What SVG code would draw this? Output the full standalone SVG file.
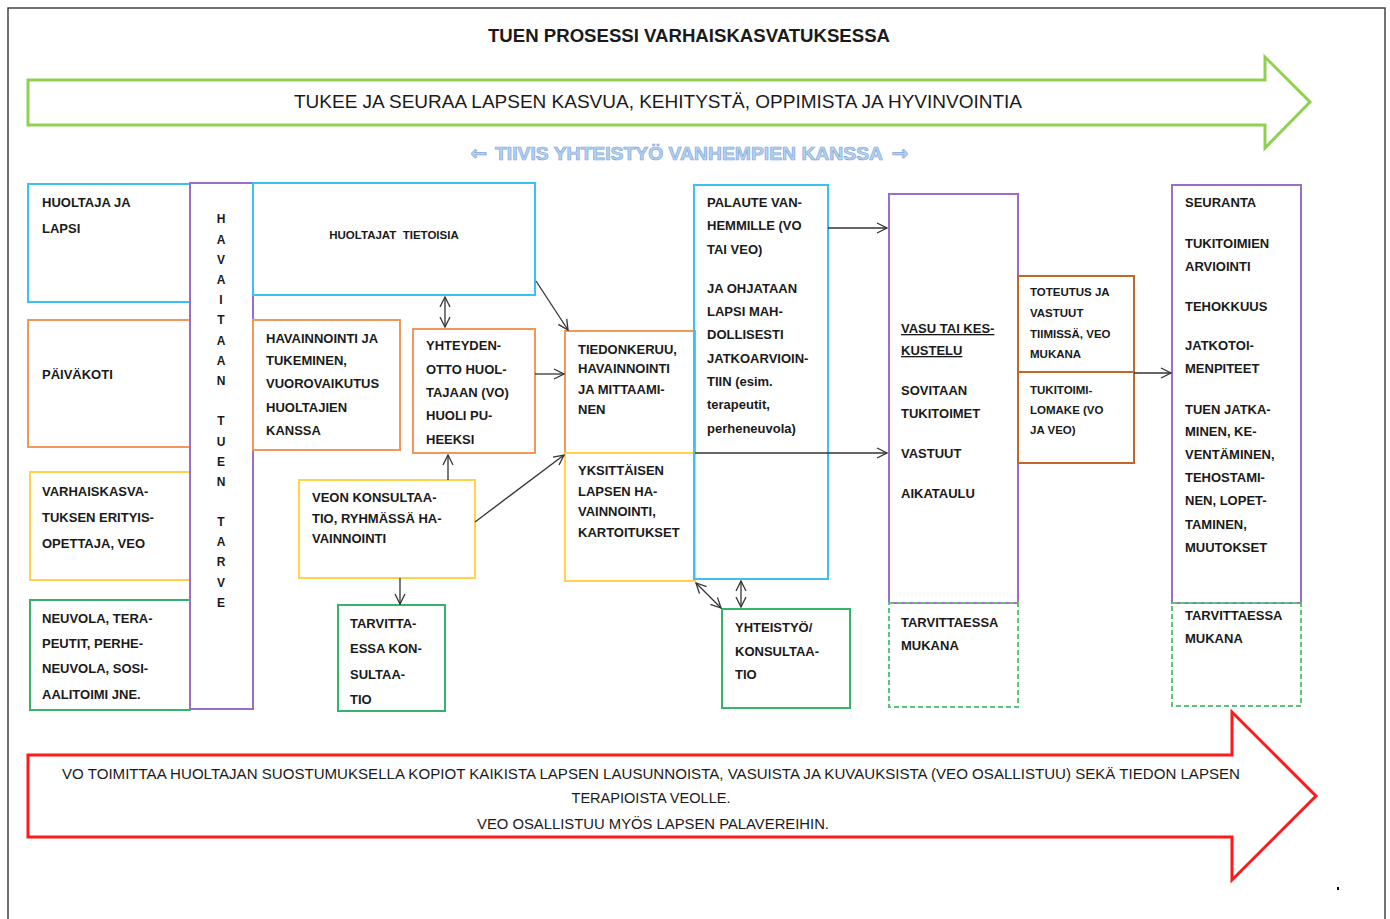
<svg xmlns="http://www.w3.org/2000/svg" width="1390" height="919" viewBox="0 0 1390 919">
<defs>
<marker id="ah" viewBox="0 0 12 12" refX="11" refY="6" markerWidth="12" markerHeight="12" markerUnits="userSpaceOnUse" orient="auto-start-reverse">
<path d="M1,1 L11,6 L1,11" fill="none" stroke="#333" stroke-width="1.3"/>
</marker>
</defs>
<style>
text{font-family:"Liberation Sans",Arial,sans-serif;fill:#1a1a1a}
.t{font-size:13px;font-weight:bold}
.s{font-size:11.5px;font-weight:bold}
.v{font-size:12px;font-weight:bold;text-anchor:middle}
.box{fill:none;stroke-width:2}
.cy{stroke:#3dbff2}
.or{stroke:#f2975a}
.ye{stroke:#ffd24a}
.gr{stroke:#34b46a}
.pu{stroke:#9c6dcc}
.br{stroke:#c0682a}
.dg{stroke:#5cc27c;stroke-dasharray:5 3}
.c{stroke:#333;stroke-width:1.3;fill:none;marker-end:url(#ah)}
.d{marker-start:url(#ah)}
.bl{font-size:18px;font-weight:bold;fill:#b9d3f0;stroke:#7fa8dc;stroke-width:0.7}
</style>
<rect width="1390" height="919" fill="#fff"/>
<path d="M8,919 V8 H1385 V919" fill="none" stroke="#444" stroke-width="1.5"/>
<rect x="1337" y="887" width="2" height="3" fill="#000"/>

<g id="title">
<text x="689" y="42" text-anchor="middle" style="font-size:18px;font-weight:bold" textLength="402" lengthAdjust="spacingAndGlyphs">TUEN PROSESSI VARHAISKASVATUKSESSA</text>
</g>

<g id="green-arrow">
<polygon points="28,80 1265,80 1265,57 1310,102 1265,148 1265,125 28,125" fill="none" stroke="#8fd14f" stroke-width="3"/>
<text x="658" y="108" text-anchor="middle" style="font-size:18px" textLength="728" lengthAdjust="spacingAndGlyphs">TUKEE JA SEURAA LAPSEN KASVUA, KEHITYSTÄ, OPPIMISTA JA HYVINVOINTIA</text>
</g>

<g id="cooperation">
<text class="bl" x="479" y="160" text-anchor="middle" style="font-family:'DejaVu Sans',sans-serif;font-size:20px">←</text>
<text class="bl" x="689" y="160" text-anchor="middle" textLength="388" lengthAdjust="spacingAndGlyphs">TIIVIS YHTEISTYÖ VANHEMPIEN KANSSA</text>
<text class="bl" x="900" y="160" text-anchor="middle" style="font-family:'DejaVu Sans',sans-serif;font-size:20px">→</text>
</g>

<g id="n-huoltaja">
<rect class="box cy" x="28" y="184" width="162" height="118"/>
<text class="t" x="42" y="207">HUOLTAJA JA</text>
<text class="t" x="42" y="233">LAPSI</text>
</g>
<g id="n-paivakoti">
<rect class="box or" x="28" y="320" width="162" height="127"/>
<text class="t" x="42" y="379">PÄIVÄKOTI</text>
</g>
<g id="n-veo">
<rect class="box ye" x="30" y="472" width="160" height="108"/>
<text class="t" x="42" y="496">VARHAISKASVA-</text>
<text class="t" x="42" y="522">TUKSEN ERITYIS-</text>
<text class="t" x="42" y="548">OPETTAJA, VEO</text>
</g>
<g id="n-neuvola">
<rect class="box gr" x="30" y="600" width="160" height="110"/>
<text class="t" x="42" y="623">NEUVOLA, TERA-</text>
<text class="t" x="42" y="648">PEUTIT, PERHE-</text>
<text class="t" x="42" y="673">NEUVOLA, SOSI-</text>
<text class="t" x="42" y="699">AALITOIMI JNE.</text>
</g>
<g id="n-havaitaan">
<rect class="box pu" x="190" y="183" width="63" height="526"/>
<text class="v" x="221" y="223">H</text>
<text class="v" x="221" y="244">A</text>
<text class="v" x="221" y="264">V</text>
<text class="v" x="221" y="284">A</text>
<text class="v" x="221" y="304">I</text>
<text class="v" x="221" y="324">T</text>
<text class="v" x="221" y="345">A</text>
<text class="v" x="221" y="365">A</text>
<text class="v" x="221" y="385">N</text>
<text class="v" x="221" y="425">T</text>
<text class="v" x="221" y="446">U</text>
<text class="v" x="221" y="466">E</text>
<text class="v" x="221" y="486">N</text>
<text class="v" x="221" y="526">T</text>
<text class="v" x="221" y="546">A</text>
<text class="v" x="221" y="566">R</text>
<text class="v" x="221" y="587">V</text>
<text class="v" x="221" y="607">E</text>
</g>
<g id="n-tietoisia">
<rect class="box cy" x="253" y="183" width="282" height="112"/>
<text class="s" x="394" y="239" text-anchor="middle">HUOLTAJAT&#160; TIETOISIA</text>
</g>
<g id="n-havainnointi">
<rect class="box or" x="253" y="320" width="147" height="130"/>
<text class="t" x="266" y="343">HAVAINNOINTI JA</text>
<text class="t" x="266" y="365">TUKEMINEN,</text>
<text class="t" x="266" y="388">VUOROVAIKUTUS</text>
<text class="t" x="266" y="412">HUOLTAJIEN</text>
<text class="t" x="266" y="435">KANSSA</text>
</g>
<g id="n-yhteydenotto">
<rect class="box or" x="413" y="329" width="122" height="124"/>
<text class="t" x="426" y="350">YHTEYDEN-</text>
<text class="t" x="426" y="374">OTTO HUOL-</text>
<text class="t" x="426" y="397">TAJAAN (VO)</text>
<text class="t" x="426" y="420">HUOLI PU-</text>
<text class="t" x="426" y="444">HEEKSI</text>
</g>
<g id="n-veon-konsultaatio">
<rect class="box ye" x="299" y="480" width="176" height="98"/>
<text class="t" x="312" y="502">VEON KONSULTAA-</text>
<text class="t" x="312" y="523">TIO, RYHMÄSSÄ HA-</text>
<text class="t" x="312" y="543">VAINNOINTI</text>
</g>
<g id="n-tarvittaessa-konsultaatio">
<rect class="box gr" x="338" y="605" width="107" height="106"/>
<text class="t" x="350" y="628">TARVITTA-</text>
<text class="t" x="350" y="653">ESSA KON-</text>
<text class="t" x="350" y="679">SULTAA-</text>
<text class="t" x="350" y="704">TIO</text>
</g>
<g id="n-tiedonkeruu">
<rect class="box or" x="565" y="331" width="130" height="122"/>
<text class="t" x="578" y="354">TIEDONKERUU,</text>
<text class="t" x="578" y="373">HAVAINNOINTI</text>
<text class="t" x="578" y="394">JA MITTAAMI-</text>
<text class="t" x="578" y="414">NEN</text>
</g>
<g id="n-yksittaisen">
<rect class="box ye" x="565" y="453" width="130" height="128"/>
<text class="t" x="578" y="475">YKSITTÄISEN</text>
<text class="t" x="578" y="496">LAPSEN HA-</text>
<text class="t" x="578" y="516">VAINNOINTI,</text>
<text class="t" x="578" y="537">KARTOITUKSET</text>
</g>
<g id="n-palaute">
<rect class="box cy" x="694" y="185" width="134" height="394"/>
<text class="t" x="707" y="207">PALAUTE VAN-</text>
<text class="t" x="707" y="230">HEMMILLE (VO</text>
<text class="t" x="707" y="254">TAI VEO)</text>
<text class="t" x="707" y="293">JA OHJATAAN</text>
<text class="t" x="707" y="316">LAPSI MAH-</text>
<text class="t" x="707" y="339">DOLLISESTI</text>
<text class="t" x="707" y="363">JATKOARVIOIN-</text>
<text class="t" x="707" y="386">TIIN (esim.</text>
<text class="t" x="707" y="409">terapeutit,</text>
<text class="t" x="707" y="433">perheneuvola)</text>
</g>
<g id="n-yhteistyo">
<rect class="box gr" x="722" y="609" width="128" height="99"/>
<text class="t" x="735" y="632">YHTEISTYÖ/</text>
<text class="t" x="735" y="656">KONSULTAA-</text>
<text class="t" x="735" y="679">TIO</text>
</g>
<g id="n-vasu">
<rect class="box pu" x="889" y="194" width="129" height="409"/>
<text class="t" x="901" y="333" text-decoration="underline">VASU TAI KES-</text>
<text class="t" x="901" y="355" text-decoration="underline">KUSTELU</text>
<text class="t" x="901" y="395">SOVITAAN</text>
<text class="t" x="901" y="418">TUKITOIMET</text>
<text class="t" x="901" y="458">VASTUUT</text>
<text class="t" x="901" y="498">AIKATAULU</text>
</g>
<g id="n-vasu-mukana">
<rect class="box dg" x="889" y="603" width="129" height="104"/>
<text class="t" x="901" y="627">TARVITTAESSA</text>
<text class="t" x="901" y="650">MUKANA</text>
</g>
<g id="n-toteutus">
<rect class="box br" x="1018" y="276" width="116" height="96"/>
<text class="s" x="1030" y="296">TOTEUTUS JA</text>
<text class="s" x="1030" y="317">VASTUUT</text>
<text class="s" x="1030" y="338">TIIMISSÄ, VEO</text>
<text class="s" x="1030" y="358">MUKANA</text>
</g>
<g id="n-lomake">
<rect class="box br" x="1018" y="372" width="116" height="91"/>
<text class="s" x="1030" y="394">TUKITOIMI-</text>
<text class="s" x="1030" y="414">LOMAKE (VO</text>
<text class="s" x="1030" y="434">JA VEO)</text>
</g>
<g id="n-seuranta">
<rect class="box pu" x="1172" y="185" width="129" height="418"/>
<text class="t" x="1185" y="207">SEURANTA</text>
<text class="t" x="1185" y="248">TUKITOIMIEN</text>
<text class="t" x="1185" y="271">ARVIOINTI</text>
<text class="t" x="1185" y="311">TEHOKKUUS</text>
<text class="t" x="1185" y="350">JATKOTOI-</text>
<text class="t" x="1185" y="373">MENPITEET</text>
<text class="t" x="1185" y="414">TUEN JATKA-</text>
<text class="t" x="1185" y="436">MINEN, KE-</text>
<text class="t" x="1185" y="459">VENTÄMINEN,</text>
<text class="t" x="1185" y="482">TEHOSTAMI-</text>
<text class="t" x="1185" y="505">NEN, LOPET-</text>
<text class="t" x="1185" y="529">TAMINEN,</text>
<text class="t" x="1185" y="552">MUUTOKSET</text>
</g>
<g id="n-seuranta-mukana">
<rect class="box dg" x="1172" y="603" width="129" height="103"/>
<text class="t" x="1185" y="620">TARVITTAESSA</text>
<text class="t" x="1185" y="643">MUKANA</text>
</g>

<g id="red-arrow">
<polygon points="28,755 1232,755 1232,712 1316,796 1232,880 1232,837 28,837" fill="none" stroke="#ff1a1a" stroke-width="3"/>
<text x="651" y="779" text-anchor="middle" style="font-size:14px" textLength="1178" lengthAdjust="spacingAndGlyphs">VO TOIMITTAA HUOLTAJAN SUOSTUMUKSELLA KOPIOT KAIKISTA LAPSEN LAUSUNNOISTA, VASUISTA JA KUVAUKSISTA (VEO OSALLISTUU) SEKÄ TIEDON LAPSEN</text>
<text x="651" y="803" text-anchor="middle" style="font-size:14px" textLength="159" lengthAdjust="spacingAndGlyphs">TERAPIOISTA VEOLLE.</text>
<text x="653" y="829" text-anchor="middle" style="font-size:14px" textLength="352" lengthAdjust="spacingAndGlyphs">VEO OSALLISTUU MYÖS LAPSEN PALAVEREIHIN.</text>
</g>

<g id="connectors">
<line class="c d" x1="445" y1="297" x2="445" y2="327"/>
<line class="c" x1="536" y1="281" x2="568" y2="330"/>
<line class="c" x1="535" y1="374" x2="564" y2="374"/>
<line class="c" x1="448" y1="480" x2="448" y2="455"/>
<line class="c" x1="475" y1="522" x2="564" y2="455"/>
<line class="c" x1="400" y1="578" x2="400" y2="604"/>
<line class="c" x1="828" y1="228" x2="887" y2="228"/>
<line class="c" x1="695" y1="453" x2="887" y2="453"/>
<line class="c d" x1="696" y1="583" x2="721" y2="608"/>
<line class="c d" x1="741" y1="581" x2="741" y2="607"/>
<line class="c" x1="1134" y1="373" x2="1171" y2="373"/>
</g>
</svg>
